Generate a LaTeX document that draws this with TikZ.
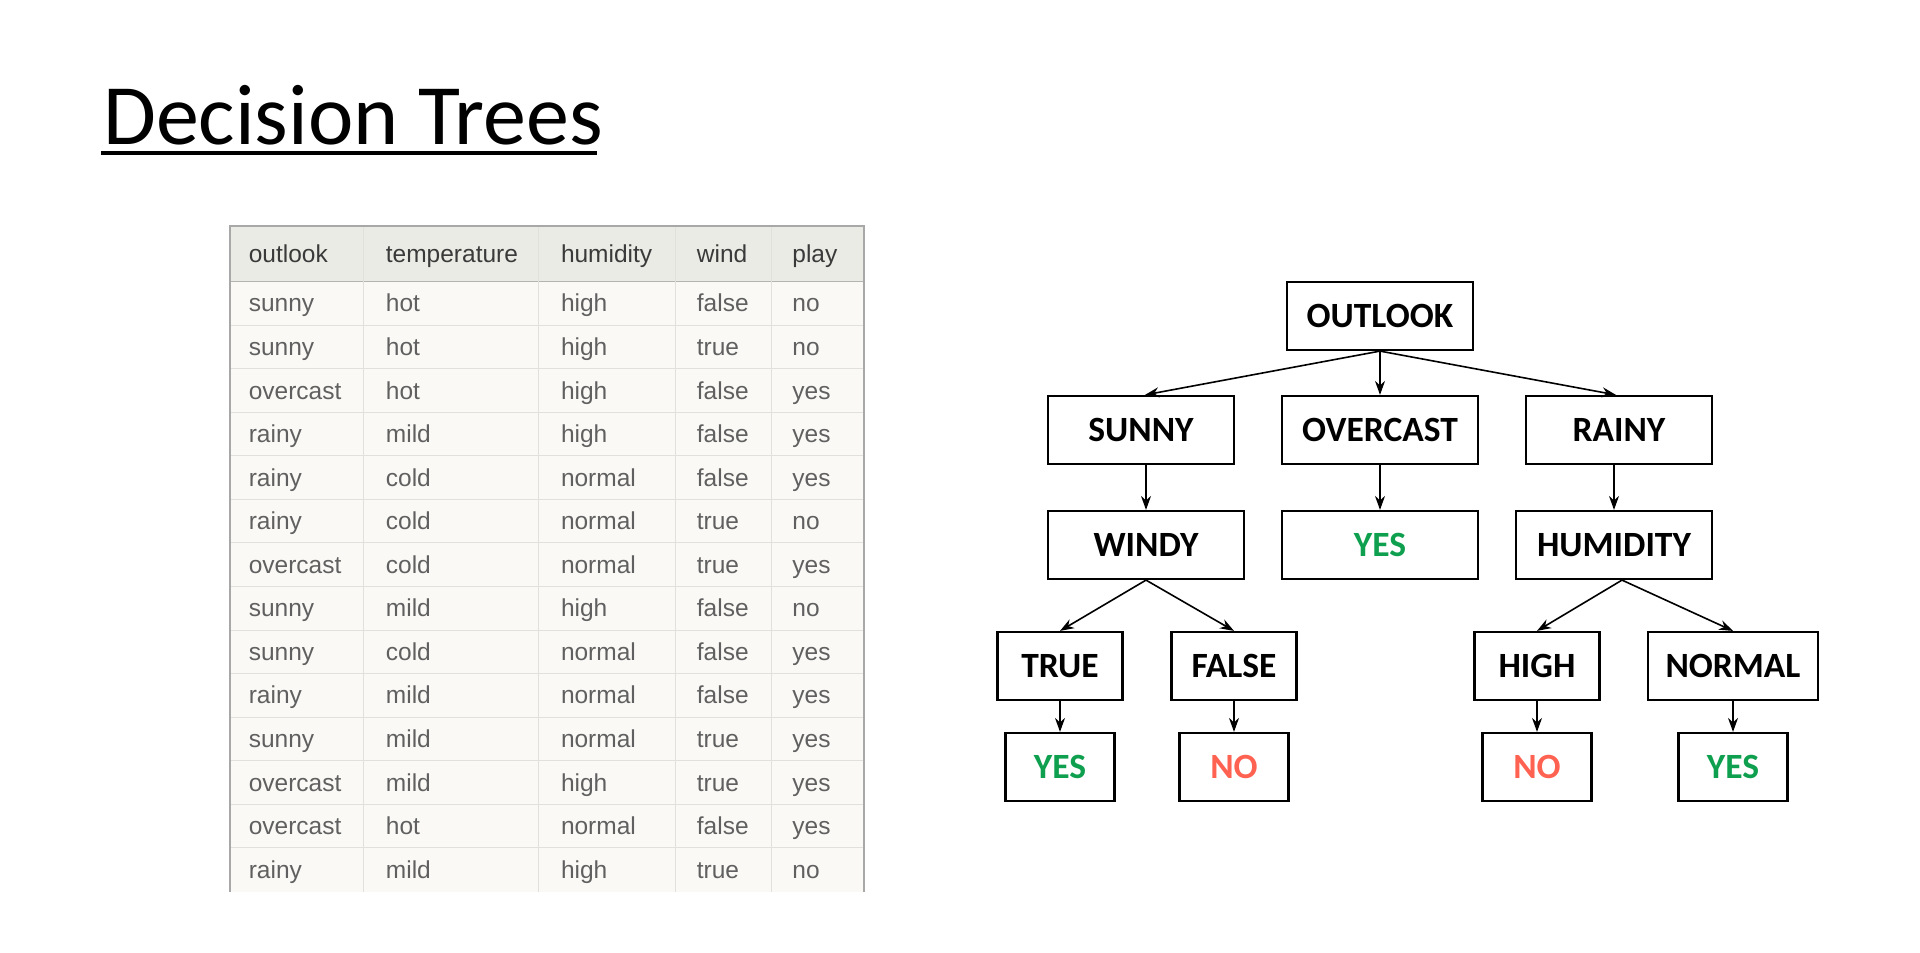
\documentclass[tikz,border=0pt]{standalone}
\usepackage{fontspec}
\setmainfont{Carlito}
\newfontfamily\tablefont{Liberation Sans}
\usetikzlibrary{arrows.meta}
\definecolor{hdrbg}{HTML}{EBEBE6}
\definecolor{bodybg}{HTML}{FAF9F6}
\definecolor{hdrtxt}{HTML}{3A3A3A}
\definecolor{bodytxt}{HTML}{606060}
\definecolor{gridc}{HTML}{E0E0DC}
\definecolor{borderc}{HTML}{A8A8A8}
\definecolor{yesgreen}{HTML}{0E9F4F}
\definecolor{nored}{HTML}{FF6251}
\tikzset{
  cell/.style={anchor=base west, inner sep=0pt, font=\tablefont\fontsize{24.5}{28}\selectfont, text=bodytxt},
  hcell/.style={cell, text=hdrtxt},
  tbox/.style={draw, line width=2.2pt, minimum height=68pt, inner sep=0pt, font=\fontsize{35.5}{40}\selectfont\bfseries},
  conn/.style={line width=1.6pt, -{Stealth[length=14pt,width=10pt]}},
}
\begin{document}
\begin{tikzpicture}[x=1pt,y=-1pt]
\useasboundingbox (0,0) rectangle (1920,953);
\fill[white] (0,0) rectangle (1920,953);
% title
\node[anchor=base west, inner sep=0pt, font=\fontsize{86}{100}\selectfont] (title) at (103,144) {Decision Trees};
\draw[line width=4.5pt] (101,153) -- (597,153);
% table
\fill[bodybg] (230,226) rectangle (864,892);
\fill[hdrbg] (230,226) rectangle (864,281.6);
\foreach \i in {1,...,13} {
  \draw[gridc, line width=1pt] (230,{281.6+\i*43.56}) -- (864,{281.6+\i*43.56});
}
\draw[gridc!80!black, line width=1pt] (230,281.6) -- (864,281.6);
\foreach \x in {363.7,538.8,675.9,771.4} {
  \draw[gridc, line width=1pt] (\x,226) -- (\x,892);
}
\draw[borderc, line width=1.6pt] (230,892) -- (230,226) -- (864,226) -- (864,892);
\foreach \t [count=\c] in {outlook,temperature,humidity,wind,play} {
  \pgfmathsetmacro{\xx}{{248.6,385.7,560.8,696.7,792.2}[\c-1]}
  \node[hcell] (h\c) at (\xx,262) {\t};
}
\foreach \a/\b/\cc/\d/\e [count=\r from 0] in {
  sunny/hot/high/false/no,
  sunny/hot/high/true/no,
  overcast/hot/high/false/yes,
  rainy/mild/high/false/yes,
  rainy/cold/normal/false/yes,
  rainy/cold/normal/true/no,
  overcast/cold/normal/true/yes,
  sunny/mild/high/false/no,
  sunny/cold/normal/false/yes,
  rainy/mild/normal/false/yes,
  sunny/mild/normal/true/yes,
  overcast/mild/high/true/yes,
  overcast/hot/normal/false/yes,
  rainy/mild/high/true/no} {
  \pgfmathsetmacro{\yy}{281.6+(\r+0.5)*43.56+8.5}
  \node[cell] (r\r c1) at (248.6,\yy) {\a};
  \node[cell] (r\r c2) at (385.7,\yy) {\b};
  \node[cell] (r\r c3) at (560.8,\yy) {\cc};
  \node[cell] (r\r c4) at (696.7,\yy) {\d};
  \node[cell] (r\r c5) at (792.2,\yy) {\e};
}
% tree
\node[tbox, minimum width=186pt] (outlook) at (1380,316) {OUTLOOK};
\node[tbox, minimum width=186pt] (sunny) at (1141,430) {SUNNY};
\node[tbox, minimum width=196pt] (overcast) at (1380,430) {OVERCAST};
\node[tbox, minimum width=186pt] (rainy) at (1619,430) {RAINY};
\node[tbox, minimum width=196pt] (windy) at (1146,545) {WINDY};
\node[tbox, minimum width=196pt, text=yesgreen] (yes1) at (1380,545) {YES};
\node[tbox, minimum width=196pt] (humidity) at (1614,545) {HUMIDITY};
\node[tbox, minimum width=125pt] (true) at (1060,666) {TRUE};
\node[tbox, minimum width=125pt] (false) at (1234,666) {FALSE};
\node[tbox, minimum width=125pt] (high) at (1537,666) {HIGH};
\node[tbox, minimum width=170pt] (normal) at (1733,666) {NORMAL};
\node[tbox, minimum width=109pt, text=yesgreen] (yes2) at (1060,767) {YES};
\node[tbox, minimum width=109pt, text=nored] (no1) at (1234,767) {NO};
\node[tbox, minimum width=109pt, text=nored] (no2) at (1537,767) {NO};
\node[tbox, minimum width=109pt, text=yesgreen] (yes3) at (1733,767) {YES};
\draw[conn] (outlook.south) -- ([xshift=4pt]sunny.north);
\draw[conn] (outlook.south) -- (overcast.north);
\draw[conn] (outlook.south) -- ([xshift=-3pt]rainy.north);
\draw[conn] (windy.north |- sunny.south) -- (windy.north);
\draw[conn] (overcast.south) -- (yes1.north);
\draw[conn] (humidity.north |- rainy.south) -- (humidity.north);
\draw[conn] (windy.south) -- (true.north);
\draw[conn] (windy.south) -- (false.north);
\draw[conn] ([xshift=8pt]humidity.south) -- (high.north);
\draw[conn] ([xshift=8pt]humidity.south) -- (normal.north);
\draw[conn] (true.south) -- (yes2.north);
\draw[conn] (false.south) -- (no1.north);
\draw[conn] (high.south) -- (no2.north);
\draw[conn] (normal.south) -- (yes3.north);
\end{tikzpicture}
\end{document}
